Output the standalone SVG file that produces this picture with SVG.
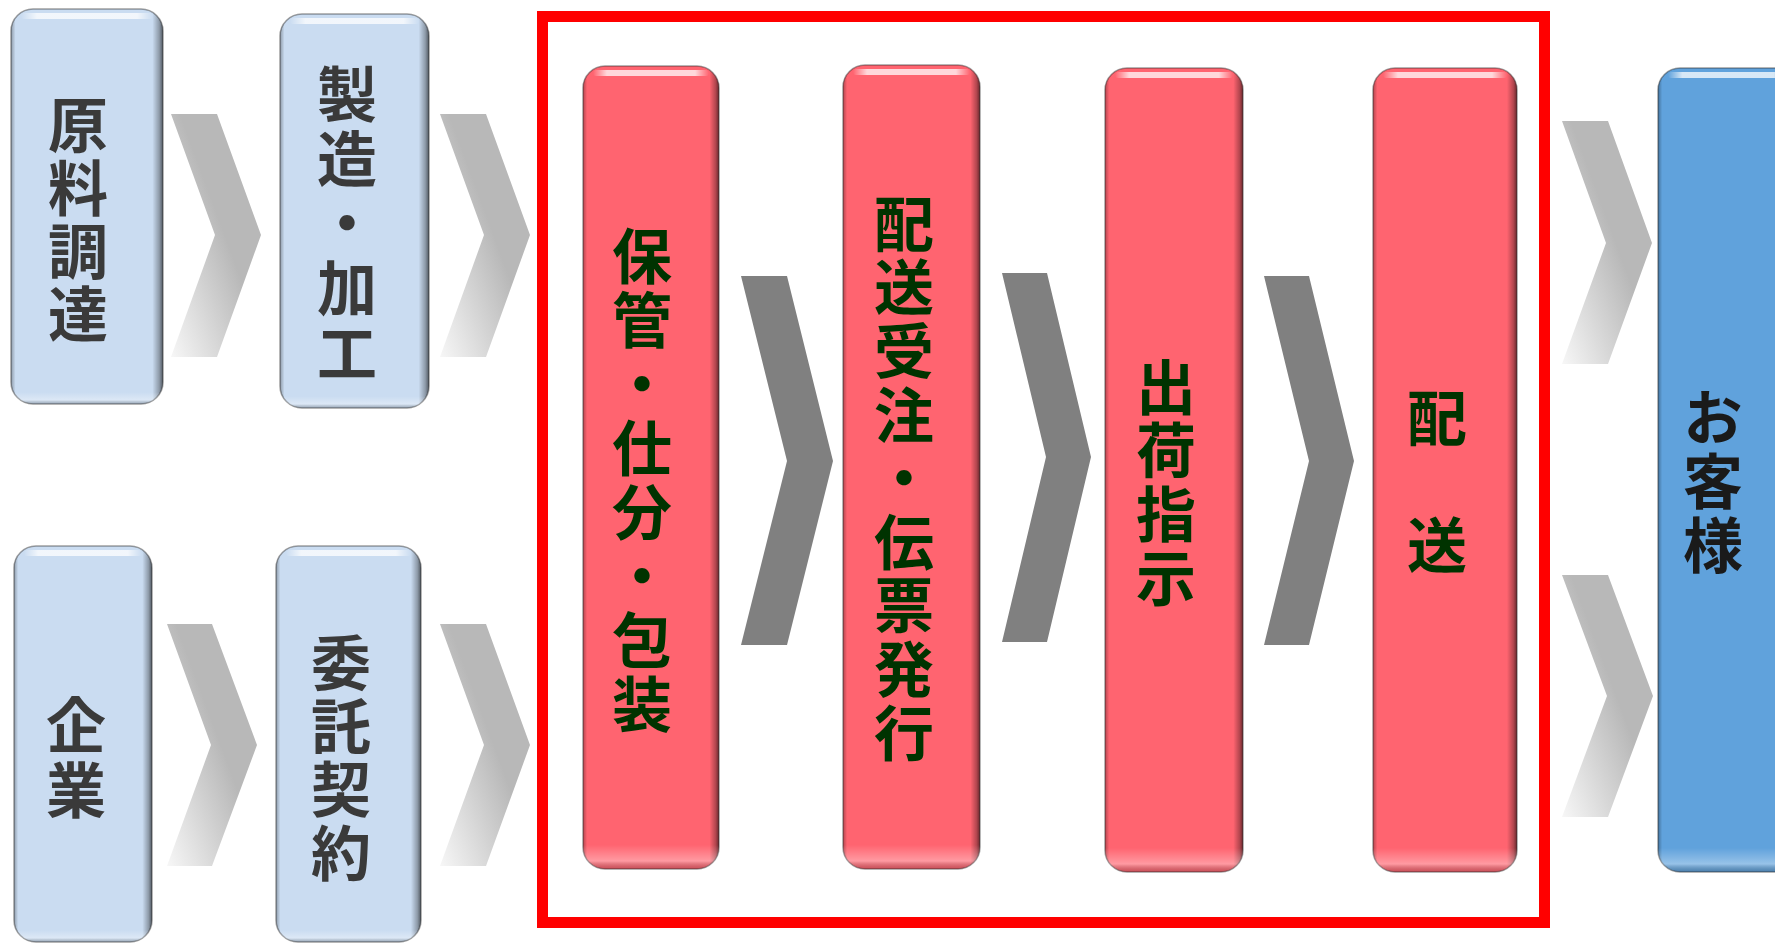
<svg xmlns="http://www.w3.org/2000/svg" width="1775" height="944" viewBox="0 0 1775 944">
<style>
.lb{fill:#cadcf1}
.pk{fill:#ff6470}
.bl{fill:#60a2dc}
.edge{fill:url(#shadeH);stroke:#2a2a2a;stroke-opacity:.45;stroke-width:1.5}
.bot{fill:url(#shadeV)}
.hl{fill:url(#hiGrad)}
.t{font-family:"Noto Sans CJK JP","Noto Sans CJK SC",sans-serif;font-weight:bold;font-size:60px;writing-mode:vertical-rl;text-anchor:start}
.tg{fill:#3a3a3a}
.tr{fill:#003300}
.tb{fill:#1a1a1a}
.chl{fill:url(#chevGrad)}
.chd{fill:#808080}
</style>
<defs>
<linearGradient id="shadeH" x1="0" y1="0" x2="1" y2="0">
<stop offset="0" stop-color="#000" stop-opacity=".3"/>
<stop offset=".03" stop-color="#000" stop-opacity="0"/>
<stop offset=".93" stop-color="#000" stop-opacity="0"/>
<stop offset=".975" stop-color="#000" stop-opacity=".3"/>
<stop offset="1" stop-color="#000" stop-opacity=".6"/>
</linearGradient>
<linearGradient id="shadeV" x1="0" y1="0" x2="0" y2="1">
<stop offset="0" stop-color="#fff" stop-opacity="0"/>
<stop offset=".97" stop-color="#fff" stop-opacity="0"/>
<stop offset=".99" stop-color="#fff" stop-opacity=".35"/>
<stop offset="1" stop-color="#000" stop-opacity=".2"/>
</linearGradient>
<linearGradient id="hiGrad" x1="0" y1="0" x2="1" y2="0">
<stop offset="0" stop-color="#fff" stop-opacity="0"/>
<stop offset=".12" stop-color="#fff" stop-opacity=".75"/>
<stop offset=".88" stop-color="#fff" stop-opacity=".75"/>
<stop offset="1" stop-color="#fff" stop-opacity="0"/>
</linearGradient>
<linearGradient id="chevGrad" x1="0" y1="1" x2="0.55" y2="0.45">
<stop offset="0" stop-color="#f7f7f7"/>
<stop offset="1" stop-color="#b8b8b8"/>
</linearGradient>
</defs>
<rect width="1775" height="944" fill="#fff"/>
<rect id="focus-frame" x="542.5" y="16.5" width="1002" height="906" fill="none" stroke="#ff0000" stroke-width="11"/>
<g id="connectors">
<polygon class="chl" points="171,114 217,114 261,235 217,357 171,357 215,235"/>
<polygon class="chl" points="440,114 486,114 530,235 486,357 440,357 484,235"/>
<polygon class="chl" points="167,624 212,624 257,745 212,866 167,866 211,745"/>
<polygon class="chl" points="440,624 486,624 530,745 486,866 440,866 484,745"/>
<polygon class="chd" points="741,276 787,276 833,461 787,645 741,645 787,461"/>
<polygon class="chd" points="1002,273 1047,273 1091,457 1047,642 1002,642 1046,457"/>
<polygon class="chd" points="1264,276 1309,276 1354,461 1309,645 1264,645 1309,461"/>
<polygon class="chl" points="1562,121 1608,121 1652,243 1608,364 1562,364 1606,243"/>
<polygon class="chl" points="1562,575 1608,575 1653,696 1608,817 1562,817 1607,696"/>
</g>
<g id="n-genryo">
<rect class="lb" x="11" y="9" width="152" height="395" rx="22"/>
<rect class="edge" x="11" y="9" width="152" height="395" rx="22"/>
<rect class="bot" x="11" y="9" width="152" height="395" rx="22"/>
<rect class="hl" x="21" y="13" width="132" height="6" rx="3"/>
<text class="t tg" x="78" y="95" letter-spacing="3">原料調達</text>
</g>
<g id="n-seizo">
<rect class="lb" x="280" y="14" width="149" height="394" rx="22"/>
<rect class="edge" x="280" y="14" width="149" height="394" rx="22"/>
<rect class="bot" x="280" y="14" width="149" height="394" rx="22"/>
<rect class="hl" x="290" y="18" width="129" height="6" rx="3"/>
<text class="t tg" x="347" y="64" letter-spacing="4.75">製造・加工</text>
</g>
<g id="n-kigyo">
<rect class="lb" x="14" y="546" width="138" height="396" rx="22"/>
<rect class="edge" x="14" y="546" width="138" height="396" rx="22"/>
<rect class="bot" x="14" y="546" width="138" height="396" rx="22"/>
<rect class="hl" x="24" y="550" width="118" height="6" rx="3"/>
<text class="t tg" x="76" y="695" letter-spacing="5">企業</text>
</g>
<g id="n-itaku">
<rect class="lb" x="276" y="546" width="145" height="396" rx="22"/>
<rect class="edge" x="276" y="546" width="145" height="396" rx="22"/>
<rect class="bot" x="276" y="546" width="145" height="396" rx="22"/>
<rect class="hl" x="286" y="550" width="125" height="6" rx="3"/>
<text class="t tg" x="341" y="633" letter-spacing="3.3">委託契約</text>
</g>
<g id="n-hokan">
<rect class="pk" x="583" y="66" width="136" height="803" rx="22"/>
<rect class="edge" x="583" y="66" width="136" height="803" rx="22"/>
<rect class="bot" x="583" y="66" width="136" height="803" rx="22"/>
<rect class="hl" x="593" y="70" width="116" height="6" rx="3"/>
<text class="t tr" x="642" y="226" letter-spacing="4.1">保管・仕分・包装</text>
</g>
<g id="n-juchu">
<rect class="pk" x="843" y="65" width="137" height="804" rx="22"/>
<rect class="edge" x="843" y="65" width="137" height="804" rx="22"/>
<rect class="bot" x="843" y="65" width="137" height="804" rx="22"/>
<rect class="hl" x="853" y="69" width="117" height="6" rx="3"/>
<text class="t tr" x="904" y="194" letter-spacing="3.6">配送受注・伝票発行</text>
</g>
<g id="n-shukka">
<rect class="pk" x="1105" y="68" width="138" height="804" rx="22"/>
<rect class="edge" x="1105" y="68" width="138" height="804" rx="22"/>
<rect class="bot" x="1105" y="68" width="138" height="804" rx="22"/>
<rect class="hl" x="1115" y="72" width="118" height="6" rx="3"/>
<text class="t tr" x="1166" y="357" letter-spacing="3.7">出荷指示</text>
</g>
<g id="n-haiso">
<rect class="pk" x="1373" y="68" width="144" height="804" rx="22"/>
<rect class="edge" x="1373" y="68" width="144" height="804" rx="22"/>
<rect class="bot" x="1373" y="68" width="144" height="804" rx="22"/>
<rect class="hl" x="1383" y="72" width="124" height="6" rx="3"/>
<text class="t tr" x="1437" y="388" letter-spacing="3.5">配　送</text>
</g>
<g id="n-kyaku">
<rect class="bl" x="1658" y="68" width="140" height="804" rx="22"/>
<rect class="edge" x="1658" y="68" width="140" height="804" rx="22"/>
<rect class="bot" x="1658" y="68" width="140" height="804" rx="22"/>
<rect class="hl" x="1668" y="72" width="120" height="6" rx="3"/>
<text class="t tb" x="1713" y="387" letter-spacing="4">お客様</text>
</g>
</svg>
